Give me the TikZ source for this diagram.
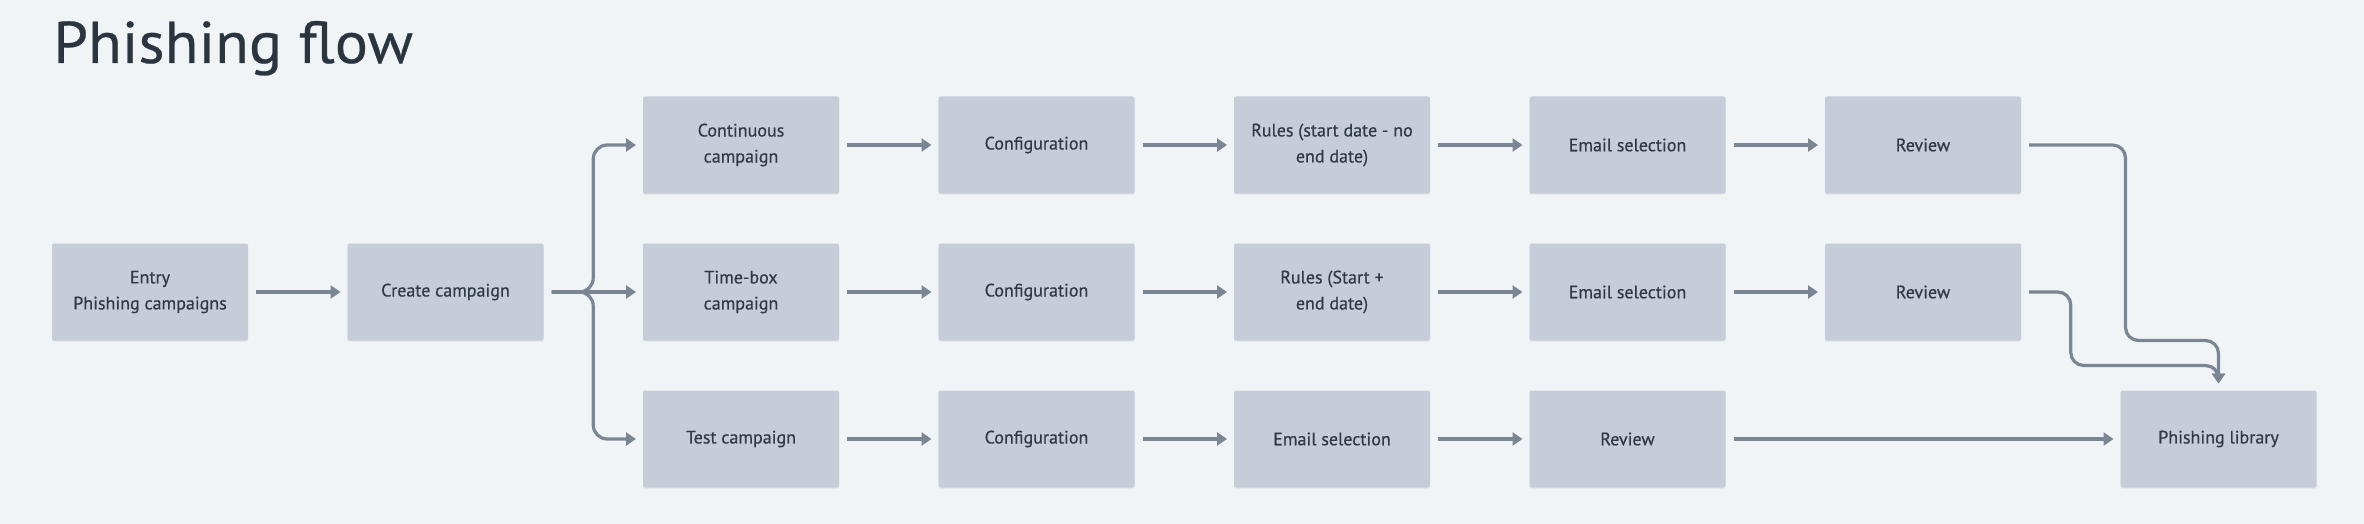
\documentclass[tikz,border=0pt]{standalone}
\usepackage{fontspec}
\setmainfont{PT Sans}
\newfontfamily\boxfont{PT Sans}[FakeBold=0.5]
\newfontfamily\titlefont{PT Sans}[FakeBold=0.4, FakeStretch=1.05]
\usepackage{xcolor}
\usetikzlibrary{positioning, calc, arrows.meta, shadows}
\definecolor{bgcol}{HTML}{F0F4F7}
\definecolor{boxcol}{HTML}{C6CDD8}
\definecolor{linecol}{HTML}{7B8695}
\definecolor{textcol}{HTML}{2F3A46}
\definecolor{titlecol}{HTML}{2B3540}
\tikzset{
	block/.style={rectangle, fill=boxcol, text=textcol, rounded corners=1pt, minimum width=98pt, minimum height=48.5pt, align=center, inner sep=2pt, outer sep=0pt, font=\boxfont\fontsize{9}{13}\selectfont, drop shadow={shadow xshift=0pt, shadow yshift=-0.6pt, opacity=0.12}},
	line/.style={draw=linecol, line width=1.6pt, -{Triangle[length=5pt, width=6.5pt]}, shorten <=4pt, shorten >=3.5pt}
}

\begin{document}
\begin{tikzpicture}[
	% Set the default distance between nodes.
	node distance=25pt and 49.75pt
	]
	% Background and page size.
	\fill[bgcol] (0,0) rectangle (1182pt,-262pt);
	\useasboundingbox (0,0) rectangle (1182pt,-262pt);
	
	% === TITLE ===
	\node[anchor=base west, inner sep=0pt, text=titlecol, font=\titlefont\fontsize{29.5}{32}\selectfont] (title) at (26.5pt,-31.5pt) {Phishing flow};
	
	% === NODES ===
	% Entry and the campaign choice.
	\node[block] (entry) at (75pt,-146pt) {Entry\\Phishing campaigns};
	\node[block, right=of entry] (create) {Create campaign};
	
	% Middle row: time-box campaign.
	\node[block, right=of create] (tbox) {Time-box\\campaign};
	\node[block, right=of tbox] (conf2) {Configuration};
	\node[block, right=of conf2] (rules2) {Rules (Start +\\end date)};
	\node[block, right=of rules2] (email2) {Email selection};
	\node[block, right=of email2] (rev2) {Review};
	
	% Top row: continuous campaign.
	\node[block, above=of tbox] (cont) {Continuous\\campaign};
	\node[block, right=of cont] (conf1) {Configuration};
	\node[block, right=of conf1] (rules1) {Rules (start date - no\\end date)};
	\node[block, right=of rules1] (email1) {Email selection};
	\node[block, right=of email1] (rev1) {Review};
	
	% Bottom row: test campaign.
	\node[block, below=of tbox] (test) {Test campaign};
	\node[block, right=of test] (conf3) {Configuration};
	\node[block, right=of conf3] (email3) {Email selection};
	\node[block, right=of email3] (rev3) {Review};
	\node[block, right=197.5pt of rev3] (lib) {Phishing library};
	
	% === CONNECTIONS ===
	\draw[line] (entry) -- (create);
	
	% Fork into the three campaign types.
	\coordinate (fork) at ($(create.east)!0.5!(tbox.west)$);
	\draw[line, rounded corners=7pt] (create.east) -- (fork) |- (cont.west);
	\draw[line, rounded corners=7pt] (create.east) -- (fork) |- (test.west);
	\draw[line] (create) -- (tbox);
	
	% Steps along each row.
	\draw[line] (cont) -- (conf1);
	\draw[line] (conf1) -- (rules1);
	\draw[line] (rules1) -- (email1);
	\draw[line] (email1) -- (rev1);
	
	\draw[line] (tbox) -- (conf2);
	\draw[line] (conf2) -- (rules2);
	\draw[line] (rules2) -- (email2);
	\draw[line] (email2) -- (rev2);
	
	\draw[line] (test) -- (conf3);
	\draw[line] (conf3) -- (email3);
	\draw[line] (email3) -- (rev3);
	
	% Into the phishing library.
	\coordinate (drop1) at ([xshift=2.5pt]lib.west |- rev2.south);
	\coordinate (drop2) at ($(rev2.east)!0.5!(lib.west)$);
	\coordinate (gap2) at ($(rev2.south)!0.5!(lib.north)$);
	\draw[line, rounded corners=6.5pt] (rev1.east) -| (drop1) -| (lib.north);
	\draw[line, rounded corners=6.5pt] (rev2.east) -| (drop2 |- gap2) -| (lib.north);
	\draw[line] (rev3) -- (lib);
\end{tikzpicture}
\end{document}
